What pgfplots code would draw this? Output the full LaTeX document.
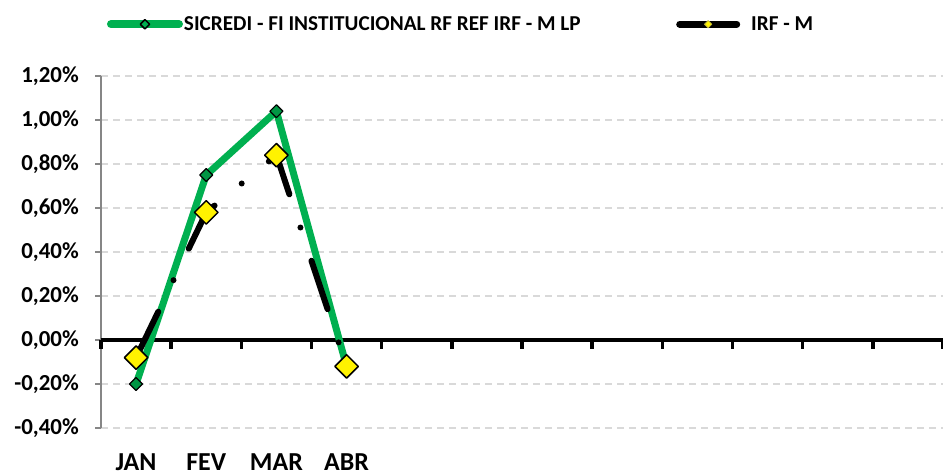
\documentclass[border=0pt]{standalone}
\usepackage{fontspec}
\setmainfont{Carlito}
\usepackage{pgfplots}
\pgfplotsset{compat=1.18}
\definecolor{sgreen}{HTML}{00B050}
\definecolor{gridgray}{HTML}{D9D9D9}
\definecolor{spinegray}{HTML}{868686}
\begin{document}
\begin{tikzpicture}
\path[use as bounding box] (0bp,0bp) rectangle (943bp,475bp);
% background axis: grid, y labels, x labels
\begin{axis}[
  at={(101bp,47bp)}, anchor=south west, scale only axis,
  width=842bp, height=352bp,
  xmin=0, xmax=12, ymin=-0.4, ymax=1.2,
  axis y line*=left, axis x line*=bottom,
  x axis line style={draw=none},
  y axis line style={draw=spinegray, line width=2bp, -},
  xtick={0.5,1.5,2.5,3.5}, xticklabels={JAN,FEV,MAR,ABR},
  xtick style={draw=none},
  ytick={-0.4,-0.2,0,0.2,0.4,0.6,0.8,1.0,1.2},
  yticklabels={{-0,40\%},{-0,20\%},{0,00\%},{0,20\%},{0,40\%},{0,60\%},{0,80\%},{1,00\%},{1,20\%}},
  ymajorgrids, grid style={draw=gridgray, line width=1.8bp, dash pattern=on 7bp off 5bp},
  ytick style={draw=spinegray, line width=2bp},
  tick align=outside, major tick length=6bp,
  yticklabel style={font=\bfseries\fontsize{23}{27}\selectfont, inner sep=0pt, xshift=-16bp},
  xticklabel style={font=\bfseries\fontsize{26}{30}\selectfont, inner sep=0pt, anchor=base, yshift=-36bp},
]
\end{axis}
% foreground axis: zero line, ticks, data, legend
\begin{axis}[
  at={(101bp,47bp)}, anchor=south west, scale only axis,
  width=842bp, height=352bp,
  xmin=0, xmax=12, ymin=-0.4, ymax=1.2,
  axis x line=middle, axis y line=none,
  x axis line style={draw=black, line width=4.5bp, -},
  xtick={0,1,...,12}, xticklabels={},
  hide obscured x ticks=false,
  xtick style={draw=black, line width=3.5bp},
  tick align=outside, major tick length=9bp,
  ytick=\empty,
  legend columns=2,
  legend style={at={(0.0071,1.147)}, anchor=west, draw=none, fill=none,
    inner sep=0pt, outer sep=0pt,
    font=\bfseries\fontsize{21.3}{25}\selectfont,
    nodes={inner sep=0pt},
    /tikz/every odd column/.style={column sep=1bp},
    /tikz/every even column/.style={column sep=95.5bp}},
  legend cell align=left,
]
\addplot[sgreen, line width=7bp, line join=round, line cap=round,
  mark=square*, mark size=4.6bp,
  mark options={rotate=45, fill=sgreen!85!black, draw=black, line width=1.2bp, solid},
  legend image code/.code={
    \draw[sgreen, line width=8bp, line cap=round] (0bp,0bp) -- (68bp,0bp);
    \draw[mark=square*, mark size=3.3bp, mark options={rotate=45, fill=sgreen, draw=black, line width=1.5bp}] plot coordinates {(34bp,0bp)};
  }]
  coordinates {(0.5,-0.20) (1.5,0.75) (2.5,1.04) (3.5,-0.12)};
\addlegendentry{SICREDI - FI INSTITUCIONAL RF REF IRF - M LP}
\addplot[black, line width=6bp, line cap=round, line join=round,
  dash pattern=on 51bp off 35bp on 0bp off 35bp,
  mark=square*, mark size=8.3bp,
  mark options={rotate=45, fill=yellow, draw=black, line width=1.5bp, solid},
  legend image code/.code={
    \draw[black, line width=7bp, line cap=round, solid] (0bp,0bp) -- (57bp,0bp);
    \draw[mark=square*, mark size=2.6bp, mark options={rotate=45, fill=yellow, draw=yellow!70!black, line width=0.8bp, solid}] plot coordinates {(28.5bp,0bp)};
  }]
  coordinates {(0.5,-0.08) (1.5,0.58) (2.5,0.84) (3.5,-0.12)};
\addlegendentry{\hspace{10bp}IRF - M}
\end{axis}
\end{tikzpicture}
\end{document}
